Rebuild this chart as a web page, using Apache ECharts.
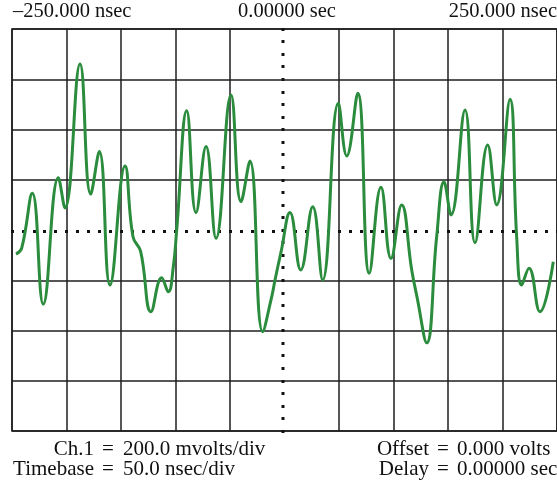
<!DOCTYPE html>
<html>
	<head>
		<meta charset="UTF-8">
		<title></title>
		<script src="https://cdn.jsdelivr.net/npm/echarts@6/dist/echarts.min.js"></script>
		<style>
			html, body { margin: 0; padding: 0; background: #fff; }
		</style>
	</head>
	<body>
		<div id="scope" style="width: 557px;height:483px;"></div>
	</body>
	<script type="application/javascript">
		// time (nsec) and level (mV)
		var timeNs = [-246.3, -241.1, -231.4, -221.3, -207.5, -201.4, -187.6, -177.8, -169.9, -160.1,
			-146.3, -139, -132, -122.5, -112.7, -106.6, -102, -98.9, -89.7, -81.2,
			-72, -62.8, -49.1, -39.9, -31.7, -20, -11.7, -8.7, -3.2, 5,
			14.9, 25.9, 35, 49.4, 57.1, 67.2, 77.8, 88.5, 97.7, 107.5,
			116.7, 121.5, 130.5, 139.6, 146.3, 152.8, 165.6, 174.8, 186.4, 194.7,
			206.9, 213, 217.6, 224.3, 234.4, 246.6];
		var milliVolts = [-96, -72, 146, -295, 208, 88, 661, 143, 312, -219,
			255, -27, -85, -325, -190, -246, -146, 0, 475, 69,
			332, -33, 537, 113, 275, -405, -265, -199, -88, 70,
			-159, 93, -199, 504, 295, 544, -172, 170, -113, 100,
			-159, -265, -449, -27, 192, 60, 478, -51, 338, 100,
			520, -27, -219, -152, -325, -126];

		var topLabels = ['\u2013250.000 nsec', '0.00000 sec', '250.000 nsec'];
		var infoLeft = [['Ch.1', '200.0 mvolts/div'], ['Timebase', '50.0 nsec/div']];
		var infoRight = [['Offset', '0.000 volts'], ['Delay', '0.00000 sec']];

		var trace = [];
		for (var i = 0; i < timeNs.length; i++) {
			trace.push([timeNs[i], milliVolts[i]]);
		}

		var ink = '#1e1e1e';
		var font = '"Liberation Serif", "DejaVu Serif", serif';

		// center lines are dotted only, so hide the split line at 0
		function gridColors(n) {
			var c = [];
			for (var k = 0; k < n; k++) c.push(k === (n - 1) / 2 ? 'rgba(0,0,0,0)' : ink);
			return c;
		}

		var dot = { width: 3, color: '#111' };

		var texts = [];
		function txt(x, y, s, align, size) {
			texts.push({
				type: 'text', x: x, y: y,
				style: { text: s, fill: '#111', font: size + 'px ' + font, textAlign: align, textVerticalAlign: 'bottom' }
			});
		}
		txt(13, 22, topLabels[0], 'left', 20.5);
		txt(287, 22, topLabels[1], 'center', 20.5);
		txt(557, 22, topLabels[2], 'right', 20.5);
		for (var j = 0; j < 2; j++) {
			var y = 460 + j * 20;
			txt(94, y, infoLeft[j][0], 'right', 21);
			txt(108, y, '=', 'center', 21);
			txt(123, y, infoLeft[j][1], 'left', 21);
			txt(429, y, infoRight[j][0], 'right', 21);
			txt(443, y, '=', 'center', 21);
			txt(457, y, infoRight[j][1], 'left', 21);
		}

		var chart = echarts.init(document.getElementById('scope'));
		chart.setOption({
			backgroundColor: '#fff',
			animation: false,
			grid: {
				left: 12, top: 29, width: 545, height: 402,
				show: true, borderColor: ink, borderWidth: 1.5, backgroundColor: '#fff'
			},
			xAxis: {
				type: 'value', min: -250, max: 250, interval: 50,
				axisLabel: { show: false },
				axisLine: { show: true, onZero: true, lineStyle: { color: 'rgba(0,0,0,0)' } },
				axisTick: { show: true, length: 3, lineStyle: dot },
				minorTick: { show: true, splitNumber: 5, length: 3, lineStyle: dot },
				splitLine: { show: true, lineStyle: { color: gridColors(11), width: 1.5 } }
			},
			yAxis: {
				type: 'value', min: -800, max: 800, interval: 200,
				axisLabel: { show: false },
				axisLine: { show: true, onZero: true, lineStyle: { color: 'rgba(0,0,0,0)' } },
				axisTick: { show: true, length: 3, lineStyle: dot },
				minorTick: { show: true, splitNumber: 4, length: 3, lineStyle: dot },
				splitLine: { show: true, lineStyle: { color: gridColors(9), width: 1.5 } }
			},
			graphic: texts,
			series: [{
				type: 'line',
				data: trace,
				smooth: 0.45,
				symbol: 'none',
				lineStyle: { color: '#2a8c3c', width: 3 }
			}]
		});
	</script>
</html>
